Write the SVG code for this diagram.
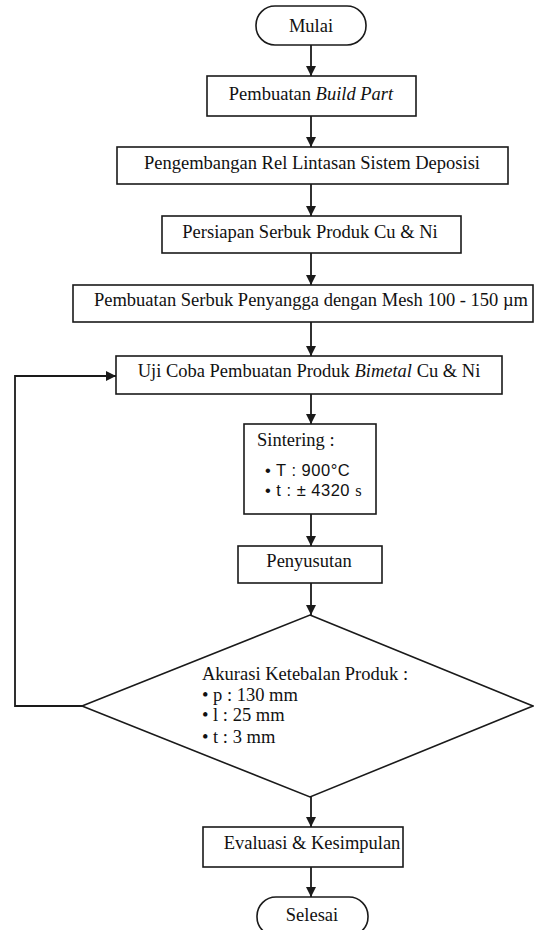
<svg xmlns="http://www.w3.org/2000/svg" width="534" height="930" viewBox="0 0 534 930">
<style>
.box{fill:#fff;stroke:#1a1a1a;stroke-width:1.6}
.t{font-family:"Liberation Serif","Times New Roman",serif;font-size:18.5px;fill:#111}
.c{text-anchor:middle}
.s{font-family:"Liberation Sans",Arial,sans-serif;font-size:16.5px;letter-spacing:0.5px;fill:#111}
.ln{fill:none;stroke:#1a1a1a;stroke-width:1.8}
</style>
<defs>
<marker id="ah" markerUnits="userSpaceOnUse" markerWidth="10" markerHeight="10" refX="10" refY="5" orient="auto">
<path d="M0,0 L10,5 L0,10 z" fill="#1a1a1a"/>
</marker>
</defs>
<rect width="534" height="930" fill="#fff"/>
<g id="connectors">
<line class="ln" x1="311" y1="45" x2="311" y2="76" marker-end="url(#ah)"/>
<line class="ln" x1="311" y1="116" x2="311" y2="147" marker-end="url(#ah)"/>
<line class="ln" x1="311" y1="184" x2="311" y2="216" marker-end="url(#ah)"/>
<line class="ln" x1="311" y1="253" x2="311" y2="285" marker-end="url(#ah)"/>
<line class="ln" x1="311" y1="322" x2="311" y2="356" marker-end="url(#ah)"/>
<line class="ln" x1="311" y1="394" x2="311" y2="424" marker-end="url(#ah)"/>
<line class="ln" x1="311" y1="514" x2="311" y2="546" marker-end="url(#ah)"/>
<line class="ln" x1="311" y1="583" x2="311" y2="615" marker-end="url(#ah)"/>
<line class="ln" x1="311" y1="797" x2="311" y2="827" marker-end="url(#ah)"/>
<line class="ln" x1="311" y1="867" x2="311" y2="897" marker-end="url(#ah)"/>
<polyline class="ln" points="82,706 15,706 15,376 116,376" marker-end="url(#ah)"/>
</g>
<g id="mulai">
<rect class="box" x="256" y="6" width="110" height="39" rx="19"/>
<text class="t c" x="311" y="32">Mulai</text>
</g>
<g id="build-part">
<rect class="box" x="207" y="76" width="209" height="40"/>
<text class="t c" x="311" y="100">Pembuatan <tspan font-style="italic">Build Part</tspan></text>
</g>
<g id="rel-lintasan">
<rect class="box" x="117" y="147" width="391" height="37"/>
<text class="t c" x="312" y="169">Pengembangan Rel Lintasan Sistem Deposisi</text>
</g>
<g id="persiapan">
<rect class="box" x="162" y="216" width="299" height="37"/>
<text class="t c" x="310" y="238">Persiapan Serbuk Produk Cu &amp; Ni</text>
</g>
<g id="penyangga">
<rect class="box" x="73" y="285" width="460" height="37"/>
<text class="t c" x="311" y="306">Pembuatan Serbuk Penyangga dengan Mesh 100 - 150 µm</text>
</g>
<g id="uji-coba">
<rect class="box" x="116" y="356" width="386" height="38"/>
<text class="t c" x="309" y="377">Uji Coba Pembuatan Produk <tspan font-style="italic">Bimetal</tspan> Cu &amp; Ni</text>
</g>
<g id="sintering">
<rect class="box" x="244" y="424" width="132" height="90"/>
<text class="t" x="257" y="446">Sintering :</text>
<text class="s" x="265" y="476">• T : 900°C</text>
<text class="s" x="265" y="495.5">• t : ± 4320 <tspan font-family="Liberation Serif, serif">s</tspan></text>
</g>
<g id="penyusutan">
<rect class="box" x="238" y="546" width="144" height="37"/>
<text class="t c" x="309" y="567">Penyusutan</text>
</g>
<g id="akurasi">
<polygon class="box" points="310,615 533,706 310,797 82,706"/>
<text class="t" x="202" y="680">Akurasi Ketebalan Produk :</text>
<text class="t" x="202" y="701">• p : 130 mm</text>
<text class="t" x="202" y="721">• l : 25 mm</text>
<text class="t" x="202" y="743">• t : 3 mm</text>
</g>
<g id="evaluasi">
<rect class="box" x="203" y="827" width="200" height="40"/>
<text class="t c" x="312" y="849">Evaluasi &amp; Kesimpulan</text>
</g>
<g id="selesai">
<rect class="box" x="257" y="897" width="111" height="39" rx="19"/>
<text class="t c" x="312" y="921">Selesai</text>
</g>
</svg>
